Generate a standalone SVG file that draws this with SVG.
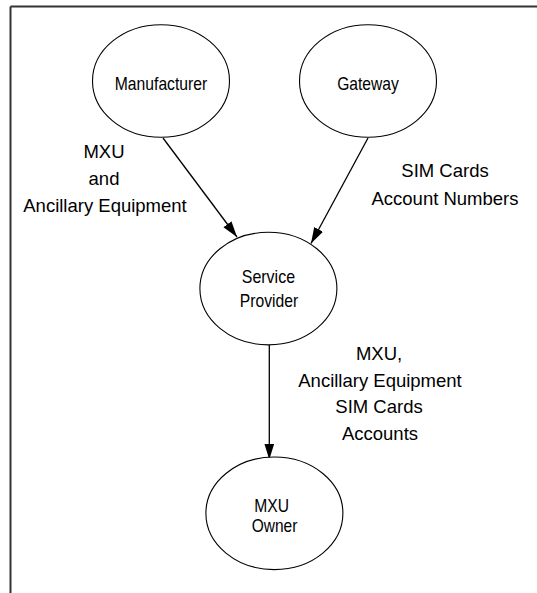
<svg xmlns="http://www.w3.org/2000/svg" width="537" height="593" viewBox="0 0 537 593">
<style>
.node ellipse{fill:#fff;stroke:#000;stroke-width:1.1}
.nl{font-family:"Liberation Sans",Arial,sans-serif;font-size:18.5px;fill:#000;text-anchor:middle}
.el{font-family:"Liberation Sans",Arial,sans-serif;font-size:18.5px;fill:#000;text-anchor:middle}
.conn line{stroke:#000;stroke-width:1.3;marker-end:url(#arr)}
</style>
<defs>
<marker id="arr" markerUnits="userSpaceOnUse" markerWidth="17" markerHeight="11" refX="16" refY="5" orient="auto">
<path d="M0,0 L16,5 L0,10 z" fill="#000"/>
</marker>
</defs>
<rect width="537" height="593" fill="#fff"/>
<g id="frame" fill="none" stroke="#333" stroke-width="2">
<line x1="10.5" y1="6.5" x2="537" y2="6.5"/>
<line x1="10.5" y1="6.5" x2="10.5" y2="593"/>
</g>
<g id="connectors" class="conn">
<line x1="163" y1="138" x2="237" y2="237"/>
<line x1="368" y1="138" x2="311" y2="243.5"/>
<line x1="269.3" y1="345" x2="269.3" y2="459.5"/>
</g>
<g id="manufacturer" class="node">
<ellipse cx="161" cy="81" rx="68.5" ry="56.3"/>
<text class="nl" x="161" y="89.7" textLength="92.5" lengthAdjust="spacingAndGlyphs">Manufacturer</text>
</g>
<g id="gateway" class="node">
<ellipse cx="368" cy="81" rx="68.5" ry="56.3"/>
<text class="nl" x="368" y="89.7" textLength="61.6" lengthAdjust="spacingAndGlyphs">Gateway</text>
</g>
<g id="service-provider" class="node">
<ellipse cx="268.4" cy="288.6" rx="68.5" ry="56.3"/>
<text class="nl" x="268.4" y="283.3" textLength="53.3" lengthAdjust="spacingAndGlyphs">Service</text>
<text class="nl" x="269" y="306.8" textLength="58.3" lengthAdjust="spacingAndGlyphs">Provider</text>
</g>
<g id="mxu-owner" class="node">
<ellipse cx="274.4" cy="513.3" rx="68.5" ry="56.3"/>
<text class="nl" x="271.7" y="511.7" textLength="34.7" lengthAdjust="spacingAndGlyphs">MXU</text>
<text class="nl" x="274.5" y="531.7" textLength="45.6" lengthAdjust="spacingAndGlyphs">Owner</text>
</g>
<g id="edge-labels">
<text class="el" x="104" y="158.3">MXU</text>
<text class="el" x="104" y="185">and</text>
<text class="el" x="105" y="211.7">Ancillary Equipment</text>
<text class="el" x="445" y="176.7">SIM Cards</text>
<text class="el" x="445" y="205">Account Numbers</text>
<text class="el" x="379" y="360">MXU,</text>
<text class="el" x="380" y="386.7">Ancillary Equipment</text>
<text class="el" x="379" y="413.3">SIM Cards</text>
<text class="el" x="380" y="440">Accounts</text>
</g>
</svg>
